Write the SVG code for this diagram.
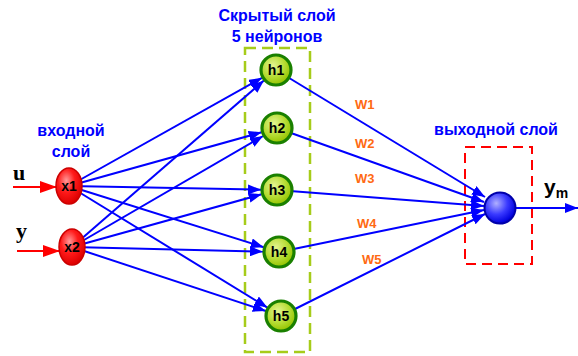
<svg xmlns="http://www.w3.org/2000/svg" width="578" height="356" viewBox="0 0 578 356">
<defs>
<style>
.conn{stroke:#0000ff;stroke-width:2;fill:none;marker-end:url(#ab)}
.inp{stroke:#ff0000;stroke-width:2;fill:none;marker-end:url(#ar)}
.lbl{font-family:"Liberation Sans",Arial,sans-serif;font-weight:bold;fill:#0000ff;font-size:16px;text-anchor:middle}
.w{font-family:"Liberation Sans",Arial,sans-serif;font-weight:bold;fill:#ff6a13;font-size:13px}
.nt{font-family:"Liberation Sans",Arial,sans-serif;font-weight:bold;fill:#000;font-size:14px;text-anchor:middle}
.xn{fill:url(#gr);stroke:#cc0000;stroke-width:1.5}
.hn{fill:url(#gg);stroke:#1a8000;stroke-width:3.2}
</style>
<marker id="ab" markerUnits="userSpaceOnUse" markerWidth="14" markerHeight="10" refX="13" refY="5" orient="auto"><path d="M0,0 L13,5 L0,10 z" fill="#0000ff"/></marker>
<marker id="ar" markerUnits="userSpaceOnUse" markerWidth="17" markerHeight="12" refX="17" refY="6" orient="auto"><path d="M0,0 L17,6 L0,12 z" fill="#ff0000"/></marker>
<radialGradient id="gr" cx="40%" cy="35%" r="65%"><stop offset="0" stop-color="#ff9a9a"/><stop offset="0.5" stop-color="#ff1a1a"/><stop offset="1" stop-color="#dd0000"/></radialGradient>
<radialGradient id="gg" cx="40%" cy="35%" r="65%"><stop offset="0" stop-color="#e4f590"/><stop offset="0.6" stop-color="#b5dc33"/><stop offset="1" stop-color="#94c400"/></radialGradient>
<radialGradient id="gb" cx="38%" cy="35%" r="65%"><stop offset="0" stop-color="#b0b0ff"/><stop offset="0.55" stop-color="#3a3aff"/><stop offset="1" stop-color="#0000dd"/></radialGradient>
</defs>
<rect width="578" height="356" fill="#ffffff"/>

<g id="labels">
<text class="lbl" x="277" y="21">Скрытый слой</text>
<text class="lbl" x="277" y="42">5 нейронов</text>
<text class="lbl" x="71" y="136" font-size="16.5">входной</text>
<text class="lbl" x="71" y="157" font-size="16.5">слой</text>
<text class="lbl" x="496" y="135">выходной слой</text>
<text x="13" y="180" font-family="'Liberation Serif',serif" font-weight="bold" font-size="22">u</text>
<text x="16" y="238" font-family="'Liberation Serif',serif" font-weight="bold" font-size="22">y</text>
<text x="544" y="194" font-family="'Liberation Sans',Arial,sans-serif" font-weight="bold" font-size="21">y<tspan font-size="14" dy="4">m</tspan></text>
</g>

<g id="boxes" fill="none">
<rect x="245" y="48" width="65" height="304" stroke="#a6cc1a" stroke-width="2.5" stroke-dasharray="11,6"/>
<rect x="465" y="147" width="67" height="117" stroke="#ff0000" stroke-width="2" stroke-dasharray="10,6"/>
</g>

<g id="connectors">
<path class="inp" d="M13,187 H57"/>
<path class="inp" d="M17,251 H60"/>
<path class="conn" d="M69,186 L262,77.8"/>
<path class="conn" d="M69,186 L261.6,132.3"/>
<path class="conn" d="M69,186 L261,189.7"/>
<path class="conn" d="M69,186 L263.7,247.2"/>
<path class="conn" d="M69,186 L267.4,307.6"/>
<path class="conn" d="M72,247 L263.9,80.5"/>
<path class="conn" d="M72,247 L263.2,136"/>
<path class="conn" d="M72,247 L261.6,194.3"/>
<path class="conn" d="M72,247 L263,251.6"/>
<path class="conn" d="M72,247 L265.8,311"/>
<path class="conn" d="M276,70 L485,197"/>
<path class="conn" d="M277,128 L484,202"/>
<path class="conn" d="M277,190 L484,206"/>
<path class="conn" d="M279,252 L484,210"/>
<path class="conn" d="M281,316 L485,214"/>
<path class="conn" d="M500,208 L578,208"/>
</g>

<g id="weights">
<text class="w" x="355" y="109">W1</text>
<text class="w" x="355" y="148">W2</text>
<text class="w" x="355" y="183">W3</text>
<text class="w" x="357" y="228">W4</text>
<text class="w" x="362" y="264">W5</text>
</g>

<g id="x1"><ellipse class="xn" cx="69" cy="186" rx="13" ry="18"/><text class="nt" x="69" y="191">x1</text></g>
<g id="x2"><ellipse class="xn" cx="72" cy="247" rx="13" ry="18"/><text class="nt" x="72" y="252">x2</text></g>
<g id="h1"><circle class="hn" cx="276" cy="70" r="15"/><text class="nt" x="276" y="75">h1</text></g>
<g id="h2"><circle class="hn" cx="277" cy="128" r="15"/><text class="nt" x="277" y="133">h2</text></g>
<g id="h3"><circle class="hn" cx="277" cy="190" r="15"/><text class="nt" x="277" y="195">h3</text></g>
<g id="h4"><circle class="hn" cx="279" cy="252" r="15"/><text class="nt" x="279" y="257">h4</text></g>
<g id="h5"><circle class="hn" cx="281" cy="316" r="15"/><text class="nt" x="281" y="321">h5</text></g>
<g id="out"><circle cx="500" cy="208" r="15.5" fill="url(#gb)" stroke="#0000aa" stroke-width="2"/></g>
</svg>
